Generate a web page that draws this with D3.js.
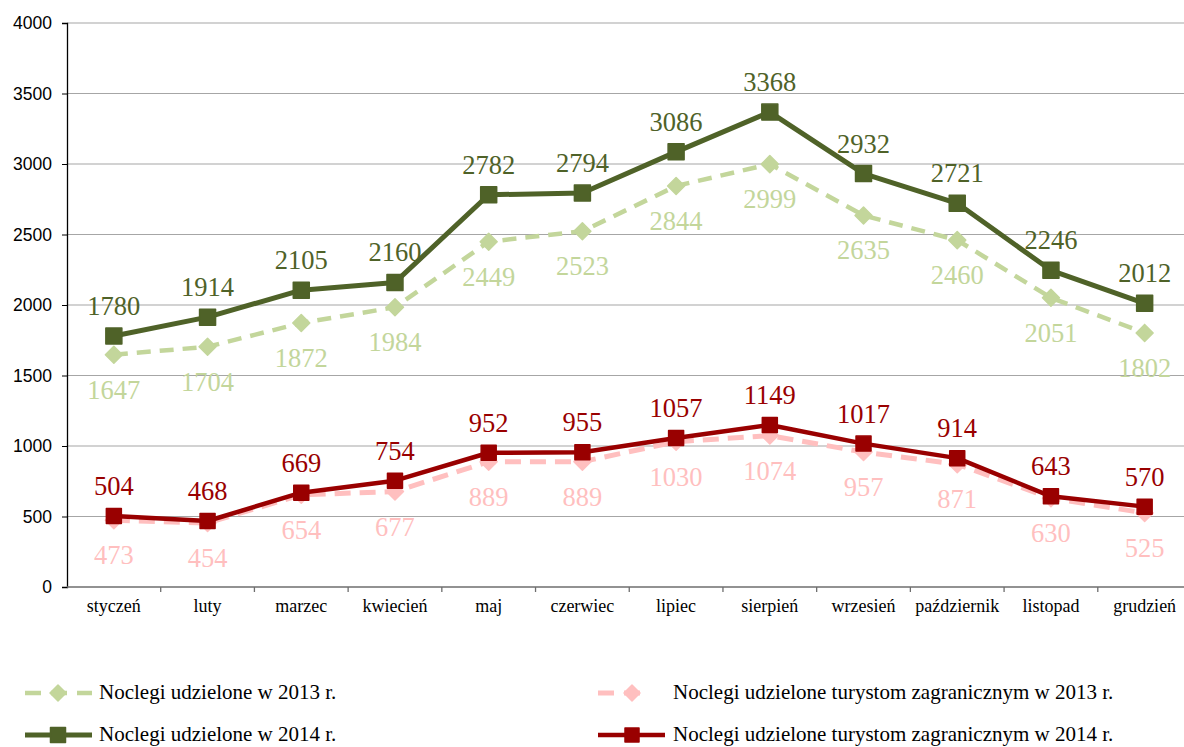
<!DOCTYPE html>
<html>
<head>
<meta charset="utf-8">
<script src="https://cdn.jsdelivr.net/npm/d3@7"></script>
<style>
  body { margin: 0; background: #fff; }
  svg { display: block; }
</style>
</head>
<body>
<div id="chart"></div>
<script>
var months = ["styczeń", "luty", "marzec", "kwiecień", "maj", "czerwiec", "lipiec",
              "sierpień", "wrzesień", "październik", "listopad", "grudzień"];
var total2013 = [1647, 1704, 1872, 1984, 2449, 2523, 2844, 2999, 2635, 2460, 2051, 1802];
var total2014 = [1780, 1914, 2105, 2160, 2782, 2794, 3086, 3368, 2932, 2721, 2246, 2012];
var foreign2013 = [473, 454, 654, 677, 889, 889, 1030, 1074, 957, 871, 630, 525];
var foreign2014 = [504, 468, 669, 754, 952, 955, 1057, 1149, 1017, 914, 643, 570];
var yTicks = [0, 500, 1000, 1500, 2000, 2500, 3000, 3500, 4000];

var width = 1184, height = 747;
var serif = "'Liberation Serif', 'Times New Roman', serif";

var svg = d3.select("#chart")
  .append("svg")
  .attr("width", width)
  .attr("height", height);

var x = d3.scaleBand().domain(months).range([67, 1191.5]);
var y = d3.scaleLinear().domain([0, 4000]).range([587, 23]);

// gridlines
svg.append("g")
  .selectAll("line")
  .data(yTicks.filter(function(d){ return d > 0; }))
  .enter().append("line")
  .attr("x1", 67).attr("x2", width)
  .attr("y1", function(d){ return y(d); })
  .attr("y2", function(d){ return y(d); })
  .style("stroke", "#a6a6a6")
  .style("stroke-width", 1.2);

// y axis
var yAxis = svg.append("g")
  .attr("transform", "translate(67,0)")
  .call(d3.axisLeft(y).tickValues(yTicks).tickFormat(d3.format("d")).tickSize(5).tickPadding(10));
yAxis.select(".domain").style("stroke", "#000").style("stroke-width", 1.3);
yAxis.selectAll(".tick line").style("stroke", "#000");
yAxis.selectAll("text")
  .attr("font-family", "'Liberation Sans', Arial, sans-serif")
  .attr("font-size", "17.5px")
  .style("fill", "#000");

// x axis
var xAxis = svg.append("g")
  .attr("transform", "translate(0,587)");
xAxis.append("line")
  .attr("x1", 67).attr("x2", width)
  .style("stroke", "#6e6e6e").style("stroke-width", 1.3);
xAxis.selectAll(".tk")
  .data(months)
  .enter().append("line")
  .attr("class", "tk")
  .attr("x1", function(d){ return x(d) + x.bandwidth(); })
  .attr("x2", function(d){ return x(d) + x.bandwidth(); })
  .attr("y1", 0).attr("y2", 5)
  .style("stroke", "#6e6e6e").style("stroke-width", 1.3);
xAxis.selectAll("text")
  .data(months)
  .enter().append("text")
  .attr("x", function(d){ return x(d) + x.bandwidth() / 2; })
  .attr("y", 25)
  .attr("text-anchor", "middle")
  .attr("font-family", serif)
  .attr("font-size", "18px")
  .style("fill", "#000")
  .text(function(d){ return d; });

var series = [
  { values: total2013, color: "#c3d69b", dash: "14,9", width: 4.5, marker: "diamond", size: 17, labelDy: 44 },
  { values: total2014, color: "#4f6228", dash: null, width: 5, marker: "square", size: 16, labelDy: -21 },
  { values: foreign2013, color: "#ffbfbf", dash: "16,9", width: 5, marker: "diamond", size: 17, labelDy: 44 },
  { values: foreign2014, color: "#990000", dash: null, width: 4.5, marker: "square", size: 15, labelDy: -21 }
];

var line = d3.line()
  .x(function(d, i){ return x(months[i]) + x.bandwidth() / 2; })
  .y(function(d){ return y(d); });

function markerPath(type, s) {
  var h = s / 2;
  if (type == "diamond") return "M0," + (-h) + "L" + h + ",0L0," + h + "L" + (-h) + ",0Z";
  return "M" + (-h) + "," + (-h) + "H" + h + "V" + h + "H" + (-h) + "Z";
}

series.forEach(function(s) {
  var g = svg.append("g");
  g.append("path")
    .datum(s.values)
    .attr("d", line)
    .style("fill", "none")
    .style("stroke", s.color)
    .style("stroke-width", s.width)
    .style("stroke-dasharray", s.dash)
    .style("stroke-linejoin", "round");

  g.selectAll(".m")
    .data(s.values)
    .enter().append("path")
    .attr("class", "m")
    .attr("transform", function(d, i){ return "translate(" + (x(months[i]) + x.bandwidth() / 2) + "," + y(d) + ")"; })
    .attr("d", markerPath(s.marker, s.size))
    .style("fill", s.color)
    .style("stroke", s.color)
    .style("stroke-width", 1.5)
    .style("stroke-linejoin", "round");
});

series.forEach(function(s) {
  svg.append("g")
    .selectAll("text")
    .data(s.values)
    .enter().append("text")
    .attr("x", function(d, i){ return x(months[i]) + x.bandwidth() / 2; })
    .attr("y", function(d){ return y(d) + s.labelDy; })
    .attr("text-anchor", "middle")
    .attr("font-family", serif)
    .attr("font-size", "26.5px")
    .style("fill", s.color)
    .text(function(d){ return d; });
});

// legend
var legendItems = [
  { name: "Noclegi udzielone w 2013 r.", s: series[0], x1: 25, x2: 92, mx: 58, tx: 99, y: 693 },
  { name: "Noclegi udzielone w 2014 r.", s: series[1], x1: 25, x2: 92, mx: 58, tx: 99, y: 735 },
  { name: "Noclegi udzielone turystom zagranicznym w 2013 r.", s: series[2], x1: 598, x2: 650, mx: 632, tx: 673, y: 693 },
  { name: "Noclegi udzielone turystom zagranicznym w 2014 r.", s: series[3], x1: 598, x2: 665, mx: 632, tx: 673, y: 735 }
];

var lg = svg.append("g").selectAll("g")
  .data(legendItems)
  .enter().append("g");

lg.append("line")
  .attr("x1", function(d){ return d.x1; })
  .attr("x2", function(d){ return d.x2; })
  .attr("y1", function(d){ return d.y; })
  .attr("y2", function(d){ return d.y; })
  .style("stroke", function(d){ return d.s.color; })
  .style("stroke-width", function(d){ return d.s.width; })
  .style("stroke-dasharray", function(d){ return d.s.dash ? "16,10" : null; });

lg.append("path")
  .attr("transform", function(d){ return "translate(" + d.mx + "," + d.y + ")"; })
  .attr("d", function(d){ return markerPath(d.s.marker, d.s.size - 1); })
  .style("fill", function(d){ return d.s.color; })
  .style("stroke", function(d){ return d.s.color; })
  .style("stroke-width", 1.5)
  .style("stroke-linejoin", "round");

lg.append("text")
  .attr("x", function(d){ return d.tx; })
  .attr("y", function(d){ return d.y + 6; })
  .attr("font-family", serif)
  .attr("font-size", "21px")
  .style("fill", "#000")
  .text(function(d){ return d.name; });
</script>
</body>
</html>
